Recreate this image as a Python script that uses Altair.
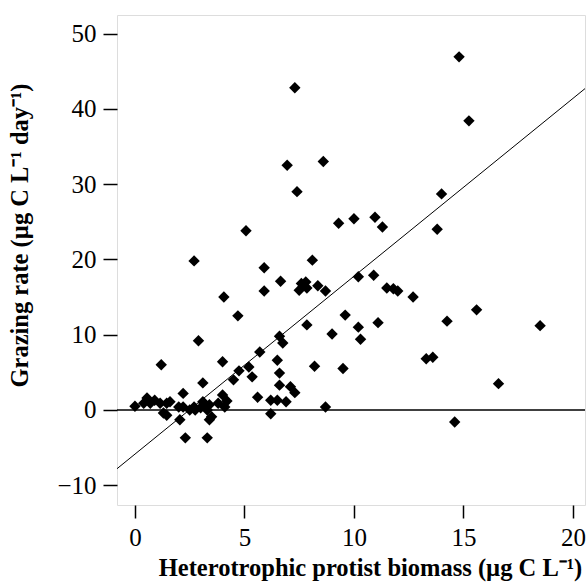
import altair as alt
import pandas as pd

# Heterotrophic protist biomass (µg C L-1)
biomass = [7.3, 14.8, 15.25, 6.95, 8.6, 7.4, 14.0, 5.07, 9.3, 10.0,
           10.96, 11.3, 13.8, 2.7, 8.1, 5.9, 6.65, 7.8, 7.5, 7.85,
           8.35, 8.7, 5.9, 4.06, 10.2, 10.9, 11.5, 11.8, 12.0, 12.7,
           4.7, 9.6, 15.6, 14.25, 18.5, 7.85, 10.2, 11.1, 9.0, 10.3,
           6.6, 6.75, 2.9, 5.7, 4.0, 6.5, 8.2, 9.5, 4.75, 5.2,
           5.35, 4.5, 6.6, 3.1, 6.6, 7.1, 7.3, 5.6, 6.2, 6.5,
           6.9, 8.7, 6.2, 4.0, 3.1, 3.4, 3.8, 4.1, 3.3, 3.5,
           3.3, 2.3, 2.2, 0.0, 0.55, 0.9, 0.7, 0.4, 1.15, 1.45,
           1.6, 1.3, 1.45, 2.0, 2.2, 2.5, 2.7, 2.05, 2.75, 3.0,
           3.15, 3.4, 1.2, 16.6, 14.6, 13.3, 13.6, 7.6, 4.2]
# Grazing rate (µg C L-1 day-1)
grazing = [42.8, 46.9, 38.4, 32.5, 33.0, 29.0, 28.7, 23.8, 24.8, 25.4,
           25.6, 24.3, 24.0, 19.8, 19.9, 18.9, 17.1, 17.0, 15.9, 16.2,
           16.5, 15.8, 15.8, 15.0, 17.7, 17.9, 16.2, 16.1, 15.8, 15.0,
           12.5, 12.6, 13.3, 11.8, 11.2, 11.3, 11.0, 11.6, 10.1, 9.4,
           9.8, 8.9, 9.2, 7.7, 6.4, 6.6, 5.8, 5.5, 5.2, 5.7,
           4.4, 4.0, 4.9, 3.6, 3.3, 3.1, 2.3, 1.7, 1.3, 1.3,
           1.1, 0.4, -0.5, 2.0, 1.1, 0.7, 0.9, 0.4, 0.0, -0.9,
           -3.7, -3.7, 2.2, 0.5, 1.6, 1.3, 0.9, 0.9, 0.9, 0.9,
           1.1, -0.4, -0.7, 0.4, 0.4, 0.0, 0.4, -1.3, 0.0, 0.3,
           0.9, -1.3, 6.0, 3.5, -1.6, 6.8, 7.0, 16.8, 1.2]

# regression line end points
reg_x = [-0.82, 20.6]
reg_y = [-7.8, 42.8]

zero_y = [0]

x_ticks = [0, 5, 10, 15, 20]
y_ticks = [-10, 0, 10, 20, 30, 40, 50]

pts = pd.DataFrame({"x": biomass, "y": grazing})
reg = pd.DataFrame({"x": reg_x, "y": reg_y})
zero = pd.DataFrame({"y": zero_y})

FONT = "Liberation Serif"
xs = alt.Scale(domain=[-0.82, 20.55], nice=False, zero=False)
ys = alt.Scale(domain=[-12.62, 52.46], nice=False, zero=False)

xaxis = alt.Axis(values=x_ticks, title="Heterotrophic protist biomass (µg C L⁻¹)",
                 grid=False, domain=False, tickColor="black", tickSize=13, tickWidth=1.5,
                 labelFont=FONT, labelFontSize=25, labelColor="black", labelPadding=7,
                 titleFont=FONT, titleFontSize=24.5, titleFontWeight="bold", titleColor="black",
                 titleX=253, titleY=70, titleBaseline="alphabetic")
yaxis = alt.Axis(values=y_ticks, title="Grazing rate (µg C L⁻¹ day⁻¹)",
                 grid=False, domain=False, tickColor="black", tickSize=14, tickWidth=1.5,
                 labelFont=FONT, labelFontSize=25, labelColor="black", labelPadding=7,
                 titleFont=FONT, titleFontSize=24.5, titleFontWeight="bold", titleColor="black",
                 titleX=-90, titleY=220, titleBaseline="alphabetic")

points = alt.Chart(pts).mark_point(shape="diamond", filled=True, color="black",
                                   size=130, opacity=1).encode(
    x=alt.X("x:Q", scale=xs, axis=xaxis),
    y=alt.Y("y:Q", scale=ys, axis=yaxis),
)

regline = alt.Chart(reg).mark_line(color="black", strokeWidth=1, clip=True).encode(
    x=alt.X("x:Q", scale=xs),
    y=alt.Y("y:Q", scale=ys),
)

zline = alt.Chart(zero).mark_rule(color="black", strokeWidth=1.6).encode(
    y=alt.Y("y:Q", scale=ys),
)

chart = alt.layer(zline, regline, points).properties(
    width=468, height=490,
    padding={"left": 117, "top": 15, "right": 2, "bottom": 81},
    autosize="none",
).configure_view(stroke="black", strokeWidth=1.6).configure(background="white")

chart.save("out.html", embed_options={"renderer": "svg", "actions": False})
